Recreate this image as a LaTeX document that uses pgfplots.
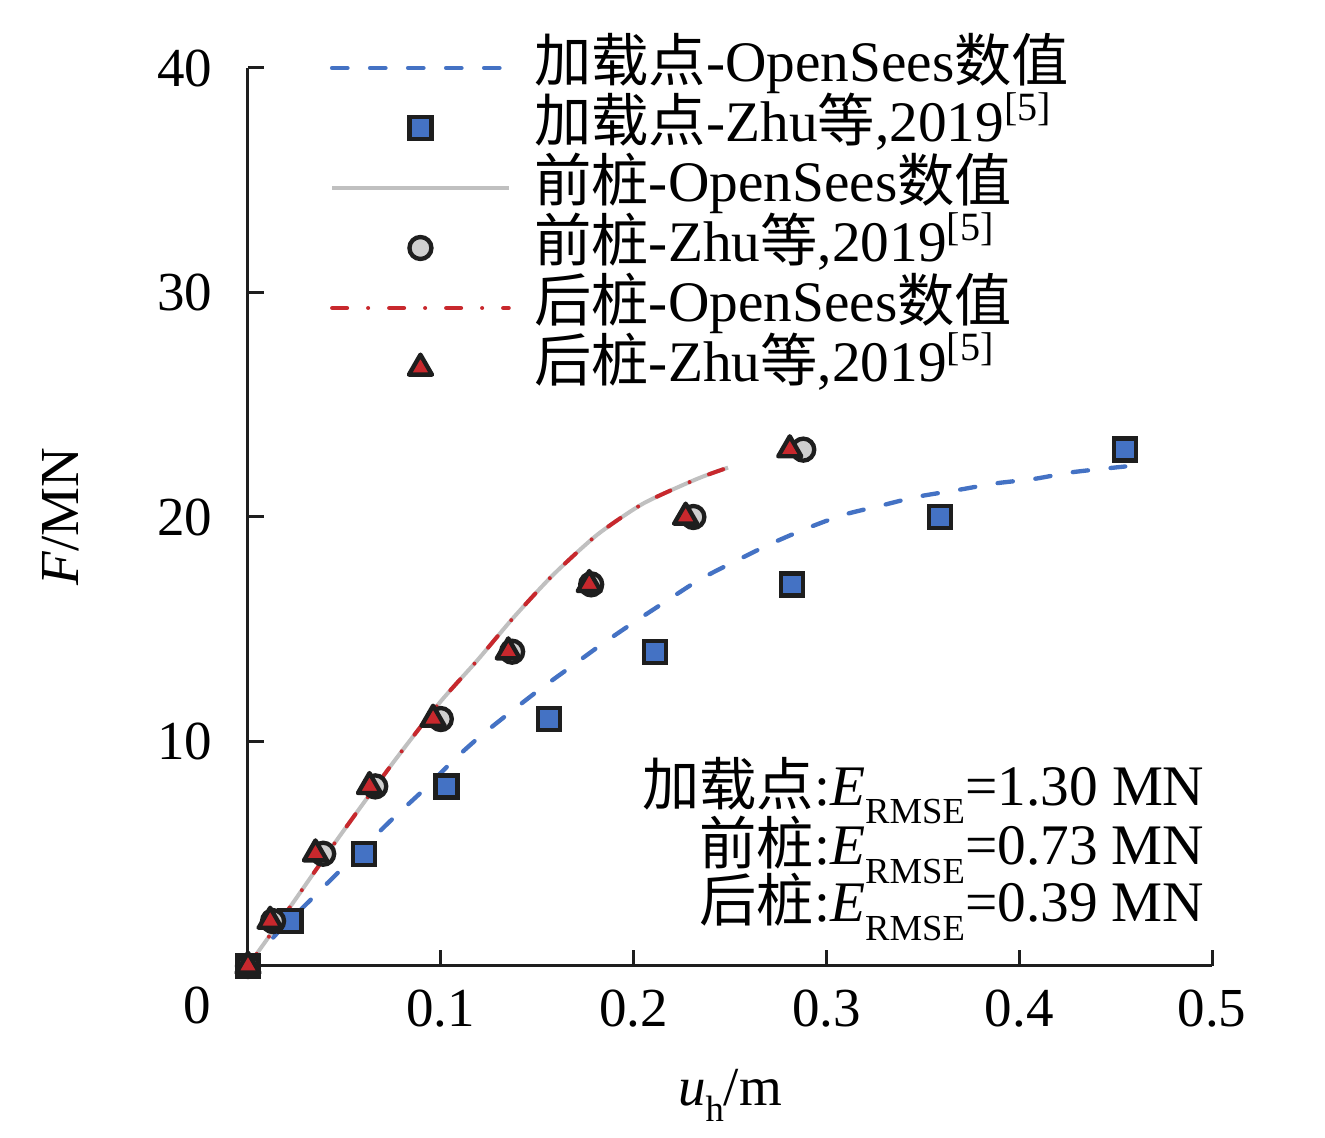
\documentclass[border=0pt]{standalone}
\usepackage{fontspec}
\setmainfont{Liberation Serif}
\IfFontExistsTF{FandolSong-Regular.otf}{\newfontfamily\cjk[Scale=1.06]{FandolSong-Regular.otf}}{\newfontfamily\cjk{Noto Sans CJK SC}}
\usepackage{pgfplots}
\usepackage{pgfplotstable}
\pgfplotsset{compat=1.18}
\newcommand\zh[1]{{\cjk #1}}
\definecolor{cblue}{HTML}{4472C4}
\definecolor{cgray}{HTML}{C0C0C0}
\definecolor{cgrayfill}{HTML}{CFCFCF}
\definecolor{cred}{HTML}{C8282D}
\definecolor{cdark}{HTML}{1E1E1E}

\pgfplotstableread{
x y
0 0
0.015 1.45
0.029 2.65
0.046 4.1
0.0737 6.45
0.0927 7.97
0.107 9.2
0.12 10.2
0.136 11.3
0.151 12.3
0.167 13.3
0.183 14.3
0.200 15.3
0.216 16.2
0.234 17.2
0.252 18.0
0.271 18.8
0.290 19.5
0.309 20.1
0.328 20.5
0.347 20.9
0.368 21.2
0.388 21.5
0.408 21.7
0.428 22.0
0.455 22.25
}\loadline

\pgfplotstableread{
x y
0 0
0.022 2.65
0.046 5.6
0.0752 9.05
0.0996 11.75
0.1188 13.6
0.1375 15.5
0.158 17.4
0.181 19.2
0.205 20.6
0.233 21.7
0.249 22.2
}\frontline

\pgfplotstableread{
x y
0 0
0.022 2.65
0.046 5.6
0.0752 9.05
0.0996 11.75
0.1188 13.6
0.1375 15.5
0.158 17.4
0.181 19.2
0.205 20.6
0.233 21.7
0.249 22.2
}\rearline

\pgfplotstableread{
x y
0 0
0.022 2
0.060 5
0.103 8
0.156 11
0.211 14
0.282 17
0.359 20
0.455 23
}\loadpts

\pgfplotstableread{
x y
0 0
0.013 2
0.039 5
0.066 8
0.100 11
0.137 14
0.178 17
0.231 20
0.288 23
}\frontpts

\pgfplotstableread{
x y
0 0
0.0115 2
0.035 5
0.063 8
0.096 11
0.135 14
0.177 17
0.227 20
0.281 23
}\rearpts

\pgfplotsset{
  bluel/.style={color=cblue, line width=1.3pt, line cap=round, dash pattern=on 4.6pt off 6.8pt},
  grayl/.style={color=cgray, line width=1.2pt},
  redl/.style={color=cred, line width=1.2pt, line cap=round, dash pattern=on 4.5pt off 6.3pt on 0pt off 6.3pt},
  sqm/.style={only marks, mark=square*, mark size=3.3pt, mark options={solid, fill=cblue, draw=cdark, line width=1.3pt}},
  circm/.style={only marks, mark=*, mark size=3.3pt, mark options={solid, fill=cgrayfill, draw=cdark, line width=1.3pt}},
  trim/.style={only marks, mark=triangle*, mark size=4pt, mark options={solid, fill=cred, draw=cdark, line width=1.3pt, line join=round}},
  lineimg/.style={legend image code/.code={\draw[##1] (0pt,0pt) -- (53pt,0pt);}},
  markimg/.style={legend image code/.code={\path[draw=none] (0pt,0pt) -- (53pt,0pt); \draw[##1, draw=none] plot coordinates {(26.5pt,0pt)};}},
}

\newcommand\leg[1]{{\fontsize{17.2}{19}\selectfont #1}}

\begin{document}
\fontsize{16.5}{19}\selectfont
\begin{tikzpicture}
\useasboundingbox (-74.4pt,-51.6pt) rectangle (323.1pt,289.8pt);
\begin{axis}[
  at={(0pt,0pt)}, anchor=south west,
  scale only axis, width=289.2pt, height=269.4pt,
  xmin=0, xmax=0.5, ymin=0, ymax=40,
  axis x line*=bottom, axis y line*=left,
  axis line style={line width=0.9pt, color=cdark, -},
  every outer x axis line/.append style={-},
  every outer y axis line/.append style={-},
  tick style={line width=0.9pt, color=cdark},
  major tick length=4.8pt,
  tick align=inside,
  xtick={0.1,0.2,0.3,0.4,0.5}, ytick={10,20,30,40},
  xticklabel style={inner sep=0pt, anchor=north, yshift=-7.0pt},
  yticklabel style={inner sep=0pt, anchor=east, xshift=-10.5pt},
  /pgf/number format/assume math mode=true,
  /pgf/number format/fixed,
  xlabel={\textit{u}\raisebox{-5pt}{\fontsize{11}{11}\selectfont h}/m},
  xlabel style={at={(axis description cs:0.5,-0.1548)}, anchor=base, inner sep=0pt},
  ylabel={\textit{F}/MN},
  ylabel style={at={(axis description cs:-0.1763,0.5)}, anchor=base, inner sep=0pt},
  clip=false,
  legend cell align=left,
  legend style={at={(axis description cs:0.085,1.0334)}, anchor=north west, draw=none, fill=none,
    inner sep=0pt, outer sep=0pt, row sep=0pt,
    nodes={inner sep=1pt, text height=12pt, text depth=4pt},
    /tikz/every odd column/.append style={column sep=6pt}},
]
\addlegendimage{bluel, lineimg}
\addlegendentry{\leg{\zh{加载点}-OpenSees\zh{数值}}}
\addlegendimage{sqm, markimg}
\addlegendentry{\leg{\zh{加载点}-Zhu\zh{等},2019\textsuperscript{[5]}}}
\addlegendimage{grayl, lineimg}
\addlegendentry{\leg{\zh{前桩}-OpenSees\zh{数值}}}
\addlegendimage{circm, markimg}
\addlegendentry{\leg{\zh{前桩}-Zhu\zh{等},2019\textsuperscript{[5]}}}
\addlegendimage{redl, lineimg}
\addlegendentry{\leg{\zh{后桩}-OpenSees\zh{数值}}}
\addlegendimage{trim, markimg}
\addlegendentry{\leg{\zh{后桩}-Zhu\zh{等},2019\textsuperscript{[5]}}}

\addplot[bluel, smooth, tension=0.4, forget plot] table {\loadline};
\addplot[grayl, smooth, tension=0.4, forget plot] table {\frontline};
\addplot[redl, smooth, tension=0.4, forget plot] table {\rearline};
\addplot[sqm, forget plot] table {\loadpts};
\addplot[circm, forget plot] table {\frontpts};
\addplot[trim, forget plot] table {\rearpts};

\node[anchor=center, inner sep=0pt] at (axis cs:0,0) [xshift=-15.3pt, yshift=-11.7pt] {0};
\node[anchor=base east, inner sep=0pt] at (axis cs:0.4964,7.17) {\leg{\zh{加载点}:\textit{E}\raisebox{-5.5pt}{\fontsize{11}{11}\selectfont RMSE}=1.30 MN}};
\node[anchor=base east, inner sep=0pt] at (axis cs:0.4964,4.50) {\leg{\zh{前桩}:\textit{E}\raisebox{-5.5pt}{\fontsize{11}{11}\selectfont RMSE}=0.73 MN}};
\node[anchor=base east, inner sep=0pt] at (axis cs:0.4964,1.96) {\leg{\zh{后桩}:\textit{E}\raisebox{-5.5pt}{\fontsize{11}{11}\selectfont RMSE}=0.39 MN}};
\end{axis}
\end{tikzpicture}
\end{document}
